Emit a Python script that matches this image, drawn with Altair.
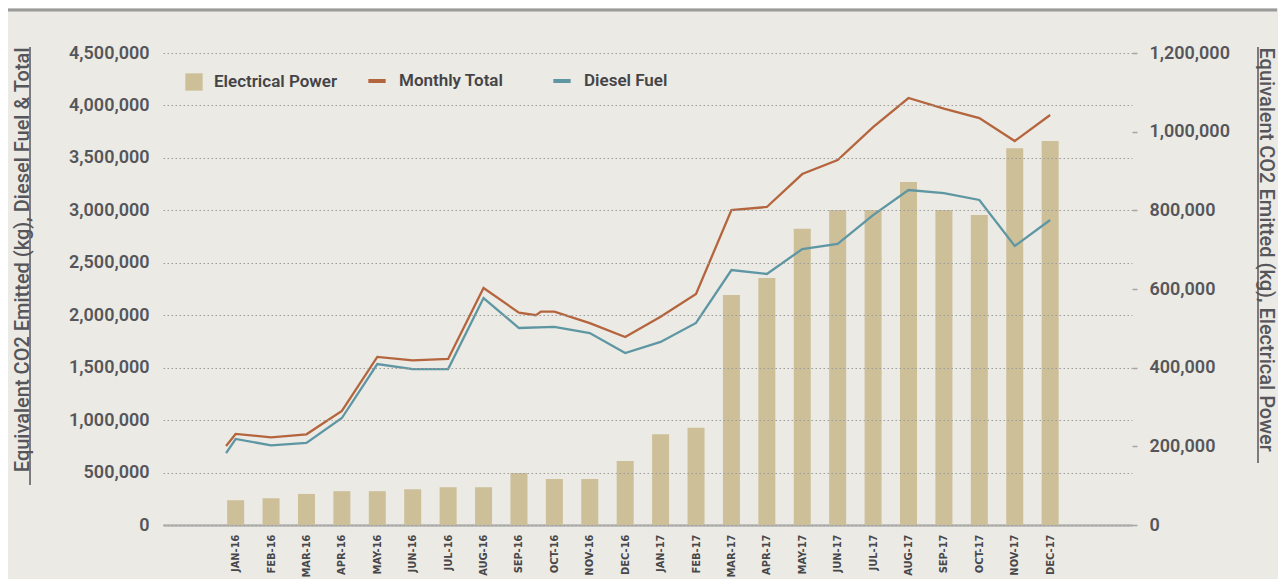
import altair as alt
import pandas as pd

# ---------------- data ----------------
months = ["JAN-16", "FEB-16", "MAR-16", "APR-16", "MAY-16", "JUN-16", "JUL-16", "AUG-16",
          "SEP-16", "OCT-16", "NOV-16", "DEC-16", "JAN-17", "FEB-17", "MAR-17", "APR-17",
          "MAY-17", "JUN-17", "JUL-17", "AUG-17", "SEP-17", "OCT-17", "NOV-17", "DEC-17"]

electrical_power = [63000, 68000, 79000, 86000, 86000, 91000, 96000, 96000,
                    132000, 117000, 117000, 163000, 231000, 247000, 585000, 628000,
                    753000, 801000, 801000, 872000, 801000, 788000, 958000, 976000]

monthly_total = [868000, 836000, 865000, 1087000, 1602000, 1570000, 1583000, 2260000,
                 2024000, 2034000, 1925000, 1792000, 1985000, 2202000, 3003000, 3032000,
                 3346000, 3480000, 3794000, 4071000, 3970000, 3880000, 3661000, 3909000]

diesel_fuel = [820000, 760000, 782000, 1020000, 1535000, 1487000, 1487000, 2164000,
               1878000, 1888000, 1830000, 1640000, 1745000, 1926000, 2431000, 2393000,
               2631000, 2679000, 2955000, 3194000, 3165000, 3099000, 2660000, 2908000]

# extra vertices drawn between months in the original line paths
total_extra_pos = [-0.27, 8.48, 8.62]
total_extra_val = [753000, 2000000, 2034000]
diesel_extra_pos = [-0.27]
diesel_extra_val = [686000]

bar_names = ["Electrical Power"]
bar_colors = ["#CDBF98"]
line_names = ["Monthly Total", "Diesel Fuel"]
line_colors = ["#B5653D", "#5E97A3"]

left_title = "Equivalent CO2 Emitted (kg), Diesel Fuel & Total"
right_title = "Equivalent CO2 Emitted (kg), Electrical Power"

# ---------------- tables ----------------
idx = list(range(len(months)))
bar_df = pd.DataFrame({"pos": idx, "value": electrical_power, "series": bar_names[0]})

line_df = pd.concat([
    pd.DataFrame({"pos": idx + total_extra_pos, "value": monthly_total + total_extra_val,
                  "series": line_names[0]}),
    pd.DataFrame({"pos": idx + diesel_extra_pos, "value": diesel_fuel + diesel_extra_val,
                  "series": line_names[1]}),
]).sort_values(["series", "pos"])

# ---------------- style ----------------
FONT = "Roboto, 'DejaVu Sans', sans-serif"
COND = "'DejaVu Sans Condensed', 'Liberation Sans Narrow', sans-serif"
TXT = "#56565A"
BG = "#EBEAE5"
W, H = 969, 472

xscale = alt.Scale(domain=[-1.91, 25.17], nice=False, zero=False)
label_expr = "[" + ",".join("'%s'" % m for m in months) + "][round(datum.value)]"

x_axis = alt.Axis(values=idx, labelExpr=label_expr, labelAngle=270, labelPadding=9,
                  labelFont=COND, labelFontSize=11, labelFontWeight="bold", labelColor="#47474A",
                  labelOverlap=False, labelFlush=False, ticks=False, grid=False,
                  domain=True, domainColor="#B3B3B1", domainWidth=2.5, title=None)

legend_common = dict(title=None, orient="none", direction="horizontal", symbolSize=300,
                     labelOffset=11, labelFont=FONT, labelFontSize=17, labelFontWeight=600,
                     labelColor="#444446", padding=0)

bar_legend = alt.Legend(legendX=22, legendY=20, symbolType="square", symbolStrokeWidth=0,
                        **legend_common)
line_legend = alt.Legend(legendX=203, legendY=17, symbolType="stroke", symbolStrokeWidth=4,
                         gridAlign="all", columnPadding=41, **legend_common)

bars = alt.Chart(bar_df).mark_bar(size=17).encode(
    x=alt.X("pos:Q", scale=xscale, axis=x_axis),
    y=alt.Y("value:Q", scale=alt.Scale(domain=[0, 1200000], nice=False),
            axis=alt.Axis(orient="right", values=list(range(0, 1200001, 200000)), format=",.0f",
                          grid=False, ticks=True, tickSize=5, tickColor="#A5A5A5", tickWidth=1.5,
                          domain=False, labelPadding=12, labelFont=FONT, labelFontSize=18,
                          labelFontWeight=600, labelColor=TXT,
                          title=right_title, titleAngle=90, titleX=127, titleY=-6,
                          titleAlign="left", titleBaseline="alphabetic", titleFont=FONT,
                          titleFontSize=20, titleFontWeight=500, titleColor=TXT)),
    color=alt.Color("series:N", scale=alt.Scale(domain=bar_names, range=bar_colors),
                    legend=bar_legend),
)

lines = alt.Chart(line_df).mark_line(strokeWidth=2.3).encode(
    x=alt.X("pos:Q", scale=xscale, axis=x_axis),
    y=alt.Y("value:Q", scale=alt.Scale(domain=[0, 4500000], nice=False),
            axis=alt.Axis(orient="left", values=list(range(0, 4500001, 500000)), format=",.0f",
                          grid=True, gridDash=[1.5, 2.5], gridColor="#9C9C9A", gridWidth=1.2,
                          ticks=False, domain=False, labelPadding=14, labelFont=FONT,
                          labelFontSize=18, labelFontWeight=600, labelColor=TXT,
                          title=left_title, titleAngle=270, titleX=-135, titleY=-6,
                          titleAlign="right", titleBaseline="alphabetic", titleFont=FONT,
                          titleFontSize=20, titleFontWeight=500, titleColor=TXT, zindex=1)),
    color=alt.Color("series:N", scale=alt.Scale(domain=line_names, range=line_colors),
                    legend=line_legend),
    order="pos:Q",
)

# decorative rules: top page rule and the title underlines
one = pd.DataFrame({"k": [0]})
top_rule = alt.Chart(one).mark_rule(color="#9A9A9A", strokeWidth=3).encode(
    x=alt.value(-155), x2=alt.value(1114), y=alt.value(-43))
left_ul = alt.Chart(one).mark_rule(color=TXT, strokeWidth=1.5).encode(
    x=alt.value(-133), y=alt.value(-6), y2=alt.value(432))
right_ul = alt.Chart(one).mark_rule(color=TXT, strokeWidth=1.5).encode(
    x=alt.value(1095), y=alt.value(-6), y2=alt.value(410))

chart = alt.layer(bars, lines, top_rule, left_ul, right_ul).resolve_scale(
    y="independent", color="independent"
).properties(
    width=W, height=H,
    autosize=alt.AutoSizeParams(type="none"),
    padding={"left": 155, "top": 45, "right": 146, "bottom": 54},
    background=BG,
).configure_view(stroke=None)

chart.save("out.html", embed_options={"renderer": "svg", "actions": False})
